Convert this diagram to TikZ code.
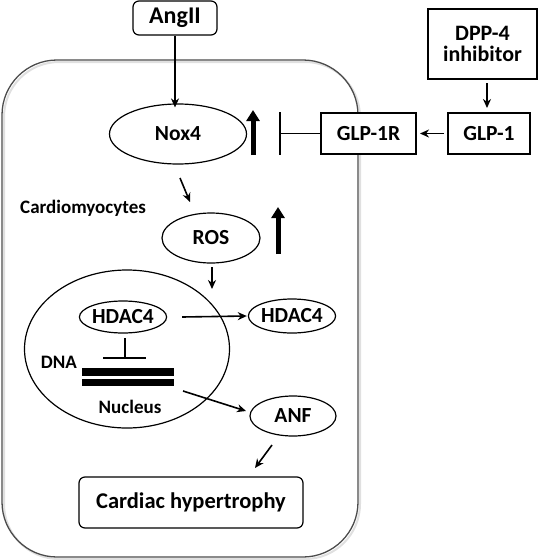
\documentclass[tikz,border=0pt]{standalone}
\usepackage{fontspec}
\setmainfont{Carlito}
\usetikzlibrary{shapes.geometric,arrows.meta}
\begin{document}
\begin{tikzpicture}[x=1pt,y=-1pt,
  lbl/.style={font=\bfseries\fontsize{21.5}{23}\selectfont},
  small/.style={font=\bfseries\fontsize{19}{21}\selectfont},
  oval/.style={draw,ellipse,line width=1.2pt,inner sep=0pt,lbl},
  sbox/.style={draw,line width=2pt,inner sep=0pt,lbl},
  rbox/.style={draw,rounded corners=6pt,line width=1.2pt,inner sep=0pt,lbl},
  arr/.style={-{Stealth[length=9pt,width=8pt]},line width=1.6pt},
  bigup/.style={-{Triangle[length=11pt,width=13pt]},line width=5pt},
]
\useasboundingbox (0,0) rectangle (540,560);
% cell
\draw[line width=2pt, black!12] (4,62) [rounded corners=55pt] rectangle (360,559);
\draw[line width=1.3pt, black!70] (2,60) [rounded corners=55pt] rectangle (358,557);
% nodes
\node[rbox, minimum width=84pt, minimum height=34pt, fill=white, font=\bfseries\fontsize{24}{26}\selectfont] (ang) at (175,18) {AngII};
\node[oval, minimum width=137pt, minimum height=60pt] (nox) at (178,134) {Nox4};
\node[sbox, minimum width=95pt, minimum height=41pt, fill=white] (glpr) at (368.5,133.5) {GLP-1R};
\node[sbox, minimum width=82pt, minimum height=41pt] (glp) at (489,133.5) {GLP-1};
\node[sbox, minimum width=109pt, minimum height=70pt, align=center, font=\bfseries\fontsize{22}{24}\selectfont] (dpp) at (482.5,44) {DPP-4\\[-3pt]inhibitor};
\node[oval, minimum width=98pt, minimum height=50pt] (ros) at (211,238) {ROS};
\node[draw, ellipse, line width=1.2pt, minimum width=205pt, minimum height=158pt, inner sep=0pt] (nuc) at (127,349) {};
\node[oval, minimum width=85pt, minimum height=32pt] (hin) at (123,317) {HDAC4};
\node[oval, minimum width=85pt, minimum height=34pt] (hout) at (292,316) {HDAC4};
\node[oval, minimum width=86pt, minimum height=40pt] (anf) at (293,416) {ANF};
\node[rbox, minimum width=224pt, minimum height=51pt, font=\bfseries\fontsize{22.5}{24}\selectfont] (ch) at (191,502.5) {Cardiac hypertrophy};
\node[small, anchor=west, inner sep=0pt] (cardio) at (20,208) {Cardiomyocytes};
\node[small, inner sep=0pt] (dnal) at (59,362) {DNA};
\node[small, inner sep=0pt] (nucl) at (130,407) {Nucleus};
% DNA bars
\fill (82,368) rectangle (174,376);
\fill (82,379) rectangle (174,386);
\coordinate (dna) at (128,377);
% big up arrows
\coordinate (up1a) at (253,155); \coordinate (up1b) at (253,110);
\coordinate (up2a) at (278,254); \coordinate (up2b) at (278,207);
\draw[bigup] (up1a) -- (up1b);
\draw[bigup] (up2a) -- (up2b);
% inhibition GLP-1R -| Nox4
\coordinate (tbar) at (280,133.5);
\draw[line width=1.6pt] (glpr.west) -- (tbar);
\draw[line width=1.6pt] (280,112) -- (280,155);
% connectors
\draw[arr] (ang.south) -- ([yshift=-4pt]ang.south |- nox.north);
\draw[arr] ([xshift=-3pt]glp.west) -- ([xshift=3pt]glpr.east);
\coordinate (dp1) at (487,83); \coordinate (dp2) at (487,108);
\draw[arr] (dp1) -- (dp2);
\coordinate (nr1) at (180,178); \coordinate (nr2) at (190,202);
\draw[arr] (nr1) -- (nr2);
\coordinate (rn1) at (212,267); \coordinate (rn2) at (212,289);
\draw[arr] (rn1) -- (rn2);
\draw[arr] ([xshift=15pt]hin.east) -- ([xshift=-1pt]hout.west);
\coordinate (ti1) at (125,338); \coordinate (ti2) at (125,358);
\draw[line width=1.6pt] (ti1) -- (ti2);
\draw[line width=1.6pt] (103,358) -- (146,358);
\coordinate (da1) at (183,391); \coordinate (da2) at (246,411);
\draw[arr] (da1) -- (da2);
\coordinate (ac1) at (272,445); \coordinate (ac2) at (255,468);
\draw[arr] (ac1) -- (ac2);
\end{tikzpicture}
\end{document}
